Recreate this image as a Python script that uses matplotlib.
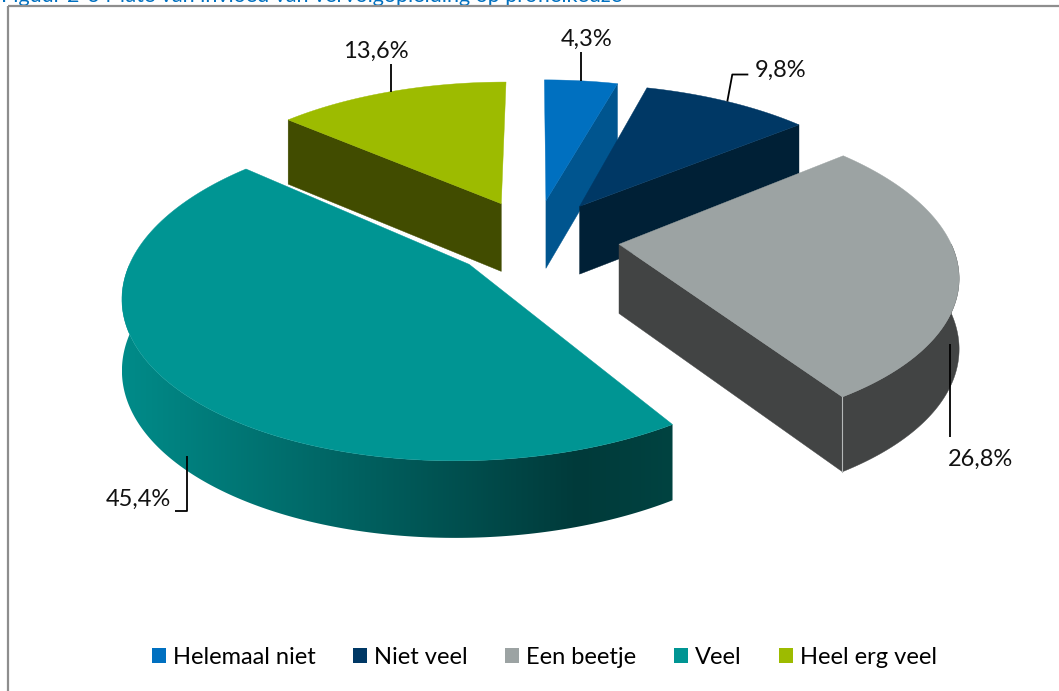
"""
Exploded 3D pie: Mate van invloed van vervolgopleiding op profielkeuze.
Writes out.png (1059x691).
"""
import numpy as np
import matplotlib
matplotlib.use("Agg")
import matplotlib.pyplot as plt
from matplotlib.patches import Polygon, Patch, Rectangle
from matplotlib.colors import LinearSegmentedColormap

labels = ["Helemaal niet", "Niet veel", "Een beetje", "Veel", "Heel erg veel"]
values = [4.3, 9.8, 26.8, 45.4, 13.6]
value_text = ["4,3%", "9,8%", "26,8%", "45,4%", "13,6%"]
top_colors = ["#0070c0", "#003865", "#9ca3a3", "#009593", "#9dbb00"]
side_colors = ["#00558f", "#002036", "#424444", "#008b89", "#414c00"]

W, H = 1059, 691
CX, CY = 535, 238          # pie centre on screen (px)
RX, RY = 330, 153          # projected radius
PERSP = 0.17               # back of the pie shrinks
EXPLODE = 0.256
DEPTH = 69

# shading of the big front wall (left -> right)
teal_wall = LinearSegmentedColormap.from_list(
    "teal_wall", [(0, "#008b89"), (0.83, "#003a3a"), (1, "#004341")])

# leader path + text anchor, offsets from the slice anchor point (px)
LABEL_LAYOUT = {
    "Helemaal niet": ([(0, 0), (0, -29)], (6, -35), "center"),
    "Niet veel": ([(0, 0), (5, -27), (21, -27)], (27, -25), "left"),
    "Een beetje": ([(-9, 4), (-9, 97)], (-11, 126), "left"),
    "Veel": ([(17, -2), (17, 53), (5, 53)], (1, 47), "right"),
    "Heel erg veel": ([(0, 0), (0, -28)], (-15, -34), "center"),
}


def project(x, y, z=0.0):
    w = 1.0 / (1.0 + PERSP * y)
    return CX + RX * x * w, CY - RY * y * w + z * DEPTH * np.sqrt(w)


def rim(ox, oy, th, z=0.0):
    t = np.radians(th)
    return project(ox + np.sin(t), oy + np.cos(t), z)


def poly(ax, pts, color, z):
    p = Polygon(pts, closed=True, facecolor=color, edgecolor=color, lw=0.3, zorder=z)
    ax.add_patch(p)
    return p


plt.rcParams["font.family"] = ["Lato", "DejaVu Sans"]
fig = plt.figure(figsize=(W / 100, H / 100), dpi=100, facecolor="white")
ax = fig.add_axes([0, 0, 1, 1])
ax.set_xlim(0, W)
ax.set_ylim(H, 0)
ax.axis("off")

fracs = np.array(values) / sum(values)
ends = np.cumsum(fracs) * 360
starts = ends - fracs * 360
mids = (starts + ends) / 2
offs = [(EXPLODE * np.sin(np.radians(m)), EXPLODE * np.cos(np.radians(m))) for m in mids]

order = sorted(range(len(values)), key=lambda i: -offs[i][1])
zc = 2
for i in order:
    s, e = starts[i], ends[i]
    ox, oy = offs[i]
    c_top, c_side = top_colors[i], side_colors[i]
    ctr0, ctr1 = project(ox, oy), project(ox, oy, 1)
    # front wall
    a, b = max(s, 90), min(e, 270)
    if b > a:
        th = np.linspace(a, b, 160)
        pts = [rim(ox, oy, t) for t in th] + [rim(ox, oy, t, 1) for t in th[::-1]]
        if labels[i] == "Veel":
            wall = poly(ax, pts, "none", zc)
            wall.set_edgecolor("none")
            xs = [p[0] for p in pts]
            ys = [p[1] for p in pts]
            grad = np.linspace(0, 1, 512)[None, :]
            img = ax.imshow(grad, cmap=teal_wall, aspect="auto", interpolation="bilinear",
                            extent=(min(xs), max(xs), max(ys), min(ys)), zorder=zc)
            img.set_clip_path(wall)
        else:
            poly(ax, pts, c_side, zc)
    # cut faces
    if np.sin(np.radians(s)) < -1e-6:
        poly(ax, [ctr0, rim(ox, oy, s), rim(ox, oy, s, 1), ctr1], c_side, zc)
    if np.sin(np.radians(e)) > 1e-6:
        poly(ax, [ctr0, rim(ox, oy, e), rim(ox, oy, e, 1), ctr1], c_side, zc)
        if b > a and e < 270:
            p, q = rim(ox, oy, e), rim(ox, oy, e, 1)
            ax.plot([p[0], q[0]], [p[1], q[1]], color="#b5b8b8", lw=0.8, zorder=zc + 0.5)
    # top face
    th = np.linspace(s, e, 120)
    poly(ax, [ctr0] + [rim(ox, oy, t) for t in th], c_top, zc + 1)
    zc += 2

ax.set_xlim(0, W)
ax.set_ylim(H, 0)

# data labels with leader lines
for i, name in enumerate(labels):
    ox, oy = offs[i]
    back = np.cos(np.radians(mids[i])) > 0
    axp, ayp = rim(ox, oy, mids[i], 0 if back else 1)
    path, (tx, ty), ha = LABEL_LAYOUT[name]
    ax.plot([axp + dx for dx, dy in path], [ayp + dy for dx, dy in path],
            color="black", lw=1.3, zorder=20, solid_capstyle="butt")
    ax.text(axp + tx, ayp + ty, value_text[i], fontsize=17, ha=ha,
            va="baseline", color="#111111", zorder=21)

# chart frame and the caption above it, cut off by the page edge
ax.add_patch(Rectangle((8, 5.5), W, H, fill=False, edgecolor="#8e8e8e",
                       lw=1.6, clip_on=False, zorder=30))
ax.text(1, 1.5, "Figuur 2-3 Mate van invloed van vervolgopleiding op profielkeuze",
        fontsize=15.5, color="#0070c0", va="baseline", ha="left", clip_on=False)

handles = [Patch(facecolor=c, edgecolor="none") for c in top_colors]
fig.legend(handles, labels, loc="center", bbox_to_anchor=(0.514, 0.049), ncol=5,
           frameon=False, fontsize=17, handlelength=0.6, handleheight=0.6,
           handletextpad=0.3, columnspacing=1.58, borderaxespad=0)

fig.savefig("out.png", dpi=100, facecolor="white")
